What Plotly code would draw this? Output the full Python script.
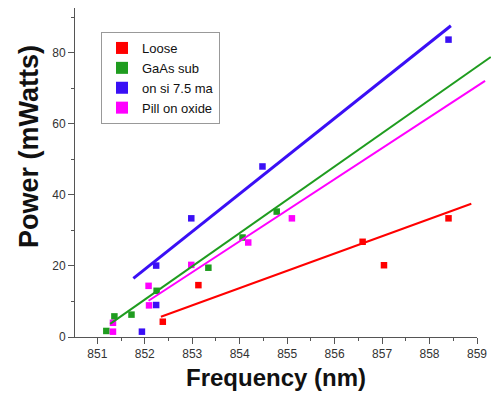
import plotly.graph_objects as go

# ---- data ----
loose_x = [852.38, 853.13, 856.59, 857.04, 858.40]
loose_y = [4.3, 14.6, 26.8, 20.2, 33.4]

gaas_x = [851.19, 851.36, 851.72, 852.25, 853.34, 854.06, 854.78]
gaas_y = [1.7, 5.8, 6.3, 13.0, 19.5, 28.0, 35.3]

si_x = [851.94, 852.24, 852.24, 852.98, 854.48, 858.40]
si_y = [1.5, 9.0, 20.1, 33.4, 48.0, 83.7]

pill_x = [851.33, 851.33, 852.08, 852.09, 852.98, 854.18, 855.10]
pill_y = [1.5, 4.0, 14.4, 8.9, 20.3, 26.6, 33.4]

# fitted lines (start, end) as drawn in the reference
loose_fit_x = [852.34, 858.88]
loose_fit_y = [5.7, 37.5]
gaas_fit_x = [851.27, 859.29]
gaas_fit_y = [3.7, 78.8]
si_fit_x = [851.76, 858.45]
si_fit_y = [16.5, 87.6]
pill_fit_x = [852.08, 859.17]
pill_fit_y = [10.2, 72.1]

names = ["Loose", "GaAs sub", "on si 7.5 ma", "Pill on oxide"]
colors = ["#ff0000", "#1f9c1f", "#3a0ff5", "#ff00ff"]
x_ticks = [851, 852, 853, 854, 855, 856, 857, 858, 859]
y_ticks = [0, 20, 40, 60, 80]

FONT = "Liberation Sans, Arial, Helvetica, sans-serif"

fig = go.Figure()

pts = [(loose_x, loose_y), (gaas_x, gaas_y), (si_x, si_y), (pill_x, pill_y)]
fits = [(loose_fit_x, loose_fit_y, 2), (gaas_fit_x, gaas_fit_y, 2),
        (si_fit_x, si_fit_y, 3), (pill_fit_x, pill_fit_y, 2)]

for (fx, fy, w), c in zip(fits, colors):
    fig.add_trace(go.Scatter(x=fx, y=fy, mode="lines", xaxis="x2", yaxis="y",
                             line=dict(color=c, width=w), showlegend=False,
                             hoverinfo="skip"))

for (px, py), n, c in zip(pts, names, colors):
    fig.add_trace(go.Scatter(x=px, y=py, mode="markers", name=n,
                             marker=dict(symbol="square", size=6.5, color=c,
                                         line=dict(width=0))))

W, H = 495, 400
L, R, T, B = 75, 4, 8, 63
plot_w = W - L - R
x0, x1 = 850.53, 859.0
main_w = 402
px_per_unit = main_w / (x1 - x0)

fig.update_layout(
    width=W, height=H, autosize=False,
    margin=dict(l=L, r=R, t=T, b=B, autoexpand=False),
    paper_bgcolor="white", plot_bgcolor="rgba(0,0,0,0)",
    font=dict(family=FONT, color="#222"),
    showlegend=True,
    legend=dict(x=(101 - L) / plot_w, y=(337 - 32) / (400 - T - B),
                xanchor="left", yanchor="top",
                bgcolor="white", bordercolor="#999", borderwidth=1,
                font=dict(size=13, color="#111", family=FONT),
                itemsizing="constant", tracegroupgap=0),
    xaxis=dict(domain=[0, main_w / plot_w],
               range=[x0, x1], automargin=False,
               tickvals=x_ticks, ticktext=[str(t) for t in x_ticks],
               ticks="outside", ticklen=6, tickwidth=1, tickcolor="#555",
               showline=True, linecolor="#555", linewidth=1,
               showgrid=False, zeroline=False,
               minor=dict(dtick=0.5, ticks="outside", ticklen=3, tickcolor="#555"),
               tickfont=dict(size=12, color="#333"),
               title=dict(text="<b>Frequency (nm)</b>", font=dict(size=24, color="#111"),
                          standoff=8),
               anchor="y"),
    xaxis2=dict(domain=[0, 1], range=[x0, x0 + plot_w / px_per_unit],
                visible=False, anchor="y", automargin=False),
    yaxis=dict(range=[0, 92.6], automargin=False,
               tickvals=y_ticks, ticktext=[str(t) for t in y_ticks],
               ticks="outside", ticklen=6, tickwidth=1, tickcolor="#555",
               showline=True, linecolor="#555", linewidth=1,
               showgrid=False, zeroline=False,
               minor=dict(dtick=10, ticks="outside", ticklen=3, tickcolor="#555"),
               tickfont=dict(size=12, color="#333")),
    annotations=[dict(text="<b>Power (mWatts)</b>", textangle=-90,
                      xref="paper", yref="paper",
                      x=(29 - L) / plot_w, y=(337 - 147) / (400 - T - B),
                      xanchor="center", yanchor="middle", showarrow=False,
                      font=dict(size=27, color="#111", family=FONT))],
)

fig.write_html("out.html")
